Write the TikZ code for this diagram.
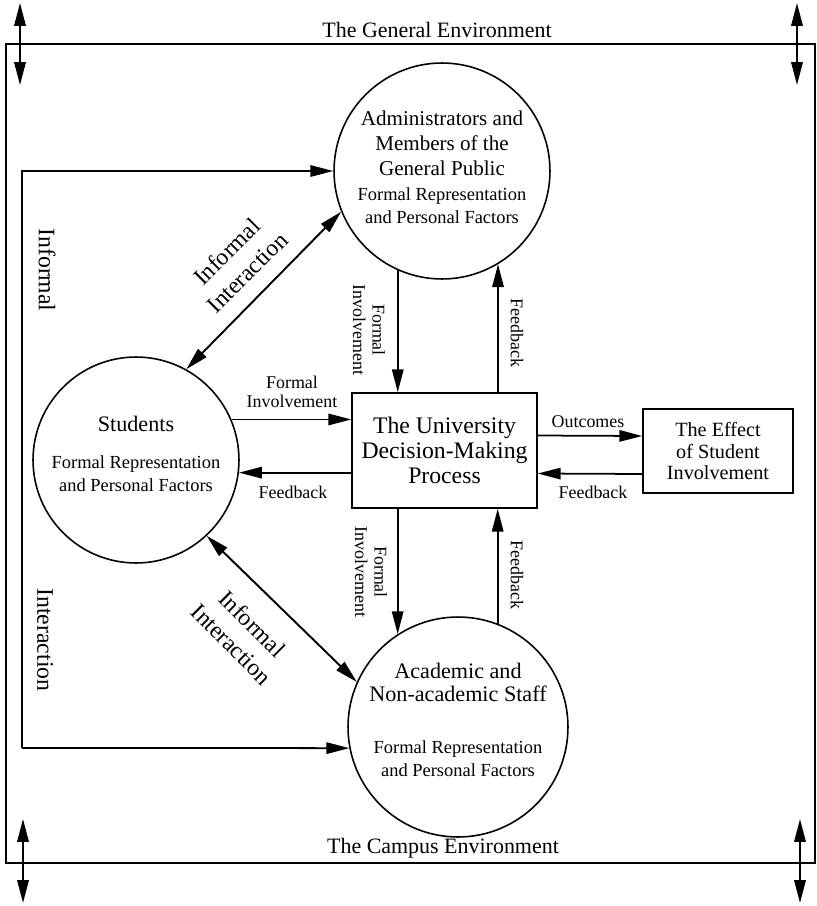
\documentclass[tikz,border=0pt]{standalone}
\usepackage{fontspec}
\setmainfont{Liberation Serif}
\usepackage{tikz}
\usetikzlibrary{arrows.meta}

\newcommand{\ttlfnt}{\fontsize{12.6}{14.5}\selectfont}
\newcommand{\repfnt}{\fontsize{10.5}{13}\selectfont}

\begin{document}
\begin{tikzpicture}[x=0.02cm, y=-0.02cm,
  circ/.style={circle, draw, line width=0.9pt, inner sep=0pt},
  ctxt/.style={align=center, inner sep=0pt, font=\repfnt},
  boxn/.style={rectangle, draw, line width=0.9pt, inner sep=0pt, align=center},
  arr/.style={-{Triangle[length=13pt, width=6.5pt]}, line width=1pt},
  darr/.style={{Triangle[length=13pt, width=6.5pt]}-{Triangle[length=13pt, width=6.5pt]}, line width=1.1pt},
  lbl/.style={font=\fontsize{10.2}{11}\selectfont, align=center, inner sep=0pt},
  biglbl/.style={font=\fontsize{13.5}{16.5}\selectfont, align=center, inner sep=0pt},
  envlbl/.style={font=\fontsize{12.5}{14}\selectfont, inner sep=0pt}]

\useasboundingbox (0,0) rectangle (817,906);

% the environments
\draw[line width=0.9pt] (6,44) rectangle (815,863);
\node[envlbl] (genv) at (437,30) {The General Environment};
\node[envlbl] (cenv) at (443,848) {The Campus Environment};

\coordinate (gl1) at (20,3);
\coordinate (gl2) at (20,85);
\coordinate (gr1) at (797,3);
\coordinate (gr2) at (797,85);
\coordinate (cl1) at (23,819);
\coordinate (cl2) at (23,903);
\coordinate (cr1) at (800,819);
\coordinate (cr2) at (800,903);
\draw[darr] (gl1) -- (gl2);
\draw[darr] (gr1) -- (gr2);
\draw[darr] (cl1) -- (cl2);
\draw[darr] (cr1) -- (cr2);

% the groups
\node[circ, minimum size=4.32cm] (admin) at (442,171) {};
\node[ctxt] (admintxt) at (442,167)
  {{\fontsize{12}{14}\selectfont Administrators and}\\[1.5pt]{\fontsize{12}{14}\selectfont Members of the}\\[1.5pt]{\fontsize{12}{14}\selectfont General Public}\\[1pt]Formal Representation\\and Personal Factors};
\node[circ, minimum size=4.12cm] (stud) at (136,460) {};
\node[ctxt] (studtxt) at (136,454)
  {{\ttlfnt Students}\\[8pt]Formal Representation\\and Personal Factors};
\node[circ, minimum size=4.4cm] (staff) at (458,727) {};
\node[ctxt] (stafftxt) at (458,720)
  {{\ttlfnt Academic and}\\{\ttlfnt Non-academic Staff}\\[17pt]Formal Representation\\and Personal Factors};

% the process and its effect
\node[boxn, minimum width=3.7cm, minimum height=2.3cm, font=\fontsize{13.5}{14.4}\selectfont] (univ) at (444.5,450.5)
  {The University\\Decision-Making\\Process};
\node[boxn, minimum width=3cm, minimum height=1.68cm, font=\fontsize{11.5}{12.5}\selectfont] (effect) at (718,451)
  {The Effect\\of Student\\Involvement};

% formal involvement and feedback
\draw[arr] (stud.23) -- (stud.23 -| univ.west);
\draw[arr] (stud.-7 -| univ.west) -- (stud.-7);
\draw[arr] (admin.-114) -- (admin.-114 |- univ.north);
\draw[arr] (admin.-59 |- univ.north) -- (admin.-59);
\draw[arr] (staff.123 |- univ.south) -- (staff.123);
\draw[arr] (staff.69) -- (staff.69 |- univ.south);
\draw[arr] ([yshift=0.3cm]univ.east) -- ([yshift=0.3cm]effect.west);
\draw[arr] ([yshift=-0.46cm]effect.west) -- ([yshift=-0.46cm]univ.east);

% informal interaction
\draw[darr] (stud.61) -- (admin.202);
\draw[darr] (stud.-47) -- (staff.156);
\coordinate (lt) at (22,171);
\coordinate (lb) at (22,748);
\draw[arr] (lb) -- (lt) -- (admin.180);
\draw[arr] (lb) -- (staff.191);

% labels
\node[lbl] (fi1) at (292,392) {Formal\\Involvement};
\node[lbl] (fb1) at (293,492) {Feedback};
\node[lbl] (oc) at (588,422) {Outcomes};
\node[lbl] (fb2) at (593,492) {Feedback};
\node[lbl, rotate=-90] (fi2) at (369,330) {Formal\\Involvement};
\node[lbl, rotate=-90] (fb3) at (517,333) {Feedback};
\node[lbl, rotate=-90] (fi3) at (371,572) {Formal\\Involvement};
\node[lbl, rotate=-90] (fb4) at (517,575) {Feedback};
\node[biglbl, rotate=45] (ii1) at (237,262) {Informal\\Interaction};
\node[biglbl, rotate=-45] (ii2) at (242,634) {Informal\\Interaction};
\node[biglbl, rotate=-90] (inf) at (47,270) {Informal};
\node[biglbl, rotate=-90] (int) at (45,640) {Interaction};

\end{tikzpicture}
\end{document}
